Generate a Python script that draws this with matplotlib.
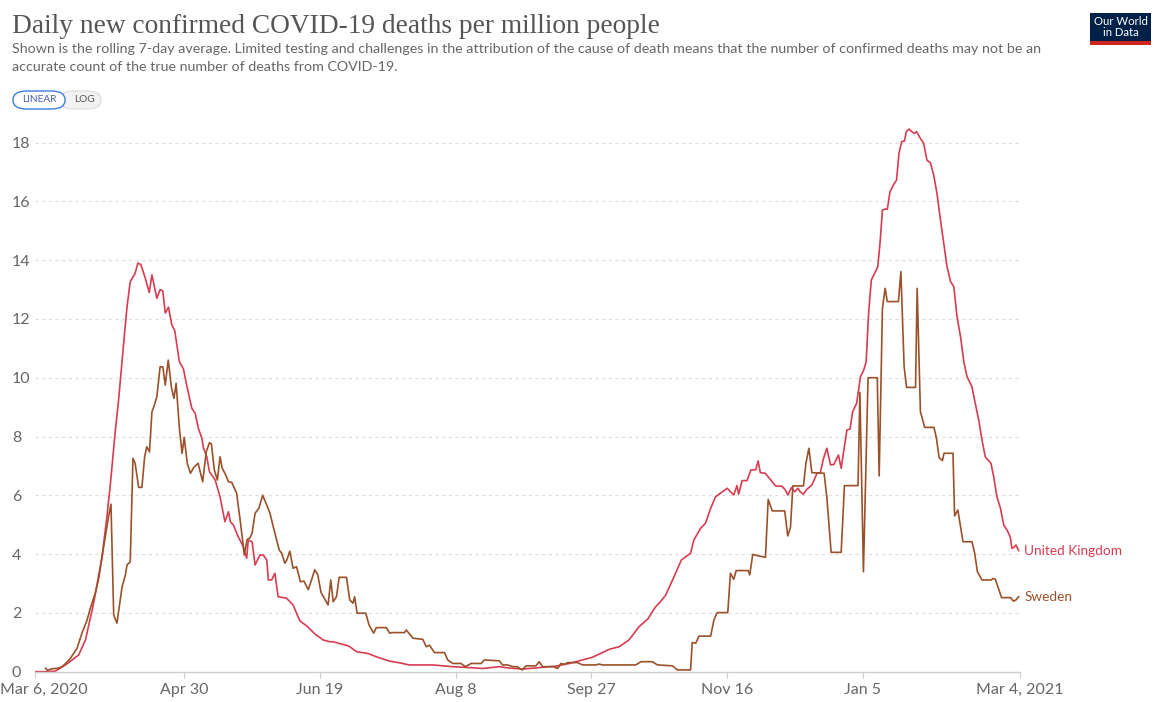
import numpy as np
import matplotlib
matplotlib.use("Agg")
import matplotlib.pyplot as plt
from matplotlib.patches import Rectangle, FancyBboxPatch
from matplotlib.transforms import ScaledTranslation

plt.rcParams['font.family'] = ['Lato', 'DejaVu Sans']

# days counted from 6 Mar 2020, values = deaths per million (7-day avg)
start_date = '2020-03-06'

uk_day = [0, 4, 7.5, 11.2, 14, 16.1, 18.6, 21.6, 24.7, 26.5, 27.8, 29.6, 30.8, 32.3, 33, 33.9, 35.1, 36.9,
          37.9, 39, 40.6, 42.1, 43.1, 44.9, 46.1, 47.1, 48, 49.2, 50.4, 51.5, 53.2, 54.7, 56, 57.8, 59,
          60.2, 61.5, 62.1, 63.3, 64.3, 66.4, 68.2, 70, 71.3, 72, 73.1, 74.9, 76.8, 78, 78.6, 80, 81.1,
          82.9, 84.1, 85.4, 86, 87.2, 88.4, 89.6, 92.7, 95.1, 97.6, 100.2, 103.2, 106.2, 108.6, 110,
          112.5, 114.8, 116, 118.5, 122.7, 126, 130.7, 134.4, 138, 146.6, 154, 160, 165, 171, 175, 179.7,
          185.8, 192, 196.9, 201.8, 205.4, 207.9, 211.6, 215.3, 218.9, 222.6, 225.9, 228.7, 230, 232.4,
          235.5, 238.2, 241.6, 242.8, 245.3, 247.1, 249, 250.8, 252.6, 255.1, 257.5, 258.7, 259.3, 260.6,
          262.4, 263.8, 265.6, 266.5, 267.3, 269.1, 271, 272.9, 275.3, 276.5, 277.5, 278.7, 280, 281.2,
          282, 283.2, 284.4, 286.3, 288.2, 289.4, 290.6, 291.8, 293.2, 294.4, 296.1, 297.1, 299.2, 300.4,
          301.3, 302.8, 304.2, 305.4, 306.3, 307.2, 308.2, 309.4, 310.6, 311.5, 312.3, 313.3, 314.1,
          315.1, 316.3, 317.5, 318.4, 319.4, 320.4, 321.1, 322.1, 323.1, 324.1, 324.9, 326.3, 327.5,
          328.7, 330, 331.2, 332.4, 333.7, 334.9, 336.1, 337.4, 338.6, 339.8, 341.1, 342.3, 343.5, 345.3,
          346.5, 347.8, 349, 350.2, 352.3, 353.3, 354.5, 355.8, 357, 358.2, 359.4, 360, 360.6, 361.5, 362.5]
uk_val = [0, 0, 0.02, 0.23, 0.42, 0.57, 1.08, 2.33, 3.9, 5.27, 6.4, 8.2, 9.24, 10.8, 11.5, 12.4, 13.27, 13.55,
          13.9, 13.85, 13.4, 12.9, 13.5, 12.7, 13.0, 12.95, 12.2, 12.4, 11.8, 11.6, 10.55, 10.3, 9.7, 8.96, 8.8,
          8.28, 7.94, 7.6, 7.31, 6.8, 6.52, 5.95, 5.1, 5.44, 5.1, 4.99, 4.59, 4.25, 3.86, 4.48, 4.42, 3.63,
          3.97, 3.97, 3.8, 3.12, 3.12, 3.35, 2.55, 2.5, 2.27, 1.73, 1.55, 1.28, 1.08, 1.02, 1.02,
          0.95, 0.9, 0.85, 0.68, 0.62, 0.5, 0.36, 0.3, 0.23, 0.23, 0.17, 0.14, 0.11, 0.17, 0.12, 0.09,
          0.14, 0.19, 0.28, 0.4, 0.49, 0.6, 0.76, 0.85, 1.08, 1.53, 1.8, 2.21, 2.33, 2.6,
          3.23, 3.8, 4.03, 4.48, 4.88, 5.05, 5.56, 5.95, 6.07, 6.24, 6.01, 6.33, 6.04, 6.5,
          6.5, 6.86, 6.87, 7.17, 6.77, 6.75, 6.54, 6.32, 6.31, 6.18, 6.01, 6.26, 6.12, 6.24,
          6.12, 6.04, 6.2, 6.35, 6.75, 6.77, 7.26, 7.6, 7.03, 7.05, 7.37, 6.92, 8.22, 8.26,
          8.84, 9.13, 10.03, 10.26, 10.54, 12.19, 13.32, 13.55, 13.78, 14.68, 15.7, 15.74, 15.73,
          16.33, 16.55, 16.72, 17.63, 18.03, 18.05, 18.37, 18.46, 18.37, 18.31, 18.37, 18.14, 17.97,
          17.4, 17.31, 16.89, 16.27, 15.36, 14.57, 13.78, 13.27, 13.1, 12.07, 11.39, 10.54, 10.03, 9.69,
          9.13, 8.56, 7.88, 7.31, 7.09, 6.63, 5.95, 5.56, 4.99, 4.82, 4.59, 4.2, 4.22, 4.31, 4.12]

se_day = [3.9, 4.5, 6.4, 8.5, 10, 11.5, 13, 15.5, 17.3, 19.2, 20.4, 22.2, 23.5, 24.7, 25.9, 27.1, 28, 29,
          30.2, 32.1, 33.3, 33.9, 35.1, 36.1, 36.9, 38.2, 39.4, 40.4, 41.2, 42.2, 43.1, 44, 44.9, 46.1,
          47.1, 48, 49.1, 50.3, 51.2, 52, 53.2, 54.2, 55, 56.1, 57.3, 58.5, 60.1, 61.8, 63.1, 64.3, 65,
          66.1, 67.2, 68.2, 69, 70.3, 71.3, 72.5, 74.3, 75.6, 76.5, 77.1, 78.2, 79.2, 80, 81.1, 82.5,
          83.9, 85.4, 86.6, 87.8, 89, 90, 90.9, 92.1, 92.8, 93.9, 95.1, 96.4, 97.8, 99.1, 100.7, 101.9,
          103.1, 104.2, 105.4, 106.5, 108, 109, 109.9, 111.1, 112.1, 114.8, 116, 117.2, 117.8, 118.7,
          121.9, 123.1, 124.8, 125.8, 129.5, 130.7, 131.5, 136.2, 136.8, 139.3, 142.9, 144.2, 145.4,
          147.2, 150.9, 152.1, 154, 157, 158.6, 160.7, 164.4, 165.6, 171.1, 172.3, 174.2, 176, 177.8,
          179.5, 181, 184.6, 185.8, 187.1, 191, 192.6, 193.8, 195, 196.3, 199.9, 201.8, 206.7, 207.9,
          209.1, 221.4, 223.3, 227.5, 229.4, 234.9, 236.7, 241.6, 242.2, 243.5, 244.7, 249, 250.2,
          251.4, 255.3, 256.3, 257.5, 258.4, 262.8, 263.4, 264.5, 265.7, 269.2, 270.2, 271.7, 276.3,
          277.4, 278.4, 279.3, 283.2, 284.1, 285.2, 286.3, 290.8, 291.8, 293.4, 297.1, 298.3, 303.3,
          304, 305.3, 307, 310.4, 311.1, 312.3, 313.3, 314.1, 318.2, 319.1, 320.3, 321.2, 324.5, 325.1,
          326.3, 327.9, 331.3, 332.2, 333.2, 334.4, 335, 338.3, 338.9, 340.1, 342, 345.3, 346.3, 347.3,
          349, 352.4, 353, 353.9, 356.2, 359.6, 360.5, 361.5, 362.5]
se_val = [0.12, 0.05, 0.1, 0.12, 0.17, 0.3, 0.45, 0.8, 1.31, 1.76, 2.16, 2.67, 3.18, 3.91, 4.59, 5.27, 5.7, 1.93,
          1.65, 2.89, 3.29, 3.63, 3.74, 7.26, 7.09, 6.27, 6.27, 7.31, 7.65, 7.48, 8.84, 9.07, 9.35, 10.37,
          10.37, 9.75, 10.6, 9.65, 9.3, 9.81, 8.3, 7.43, 7.97, 7.09, 6.75, 6.95, 7.09, 6.46, 7.48, 7.79, 7.75,
          6.86, 6.52, 7.31, 6.92, 6.69, 6.46, 6.44, 6.07, 5.16, 4.48, 3.97, 4.5, 4.55, 4.71, 5.39, 5.56,
          6.0, 5.67, 5.39, 4.93, 4.5, 4.14, 4.03, 3.69, 3.8, 4.1, 3.52, 3.57, 3.06, 3.08, 2.79, 3.12,
          3.47, 3.3, 2.7, 2.52, 2.27, 3.12, 2.38, 2.55, 3.21, 3.21, 2.44, 2.33, 2.55, 1.99,
          1.99, 1.59, 1.31, 1.5, 1.5, 1.31, 1.33, 1.33, 1.42, 1.14, 1.1, 0.85, 0.9,
          0.65, 0.65, 0.4, 0.28, 0.28, 0.17, 0.28, 0.28, 0.4, 0.37, 0.23, 0.23, 0.17, 0.17,
          0.06, 0.2, 0.2, 0.34, 0.17, 0.17, 0.11, 0.28, 0.25, 0.31, 0.31, 0.23, 0.23, 0.26,
          0.23, 0.23, 0.34, 0.34, 0.23, 0.2, 0.06, 0.06, 0.99, 0.97, 1.21, 1.21, 1.76,
          2.01, 2.01, 3.35, 3.14, 3.44, 3.44, 3.29, 3.99, 3.96, 3.89, 5.86, 5.47, 5.47,
          4.62, 4.9, 6.32, 6.32, 7.09, 7.6, 6.77, 6.75, 5.95, 4.06, 4.06, 6.33, 6.33,
          9.5, 3.4, 10.0, 10.0, 6.66, 12.36, 13.04, 12.59, 12.59, 13.61, 10.37, 9.67, 9.67, 13.04,
          8.84, 8.31, 8.31, 7.94, 7.28, 7.18, 7.43, 7.43, 5.3, 5.5, 4.42, 4.42, 4.03, 3.4,
          3.12, 3.12, 3.17, 3.15, 2.52, 2.52, 2.4, 2.44, 2.55]

tick_dates = ['2020-03-06', '2020-04-30', '2020-06-19', '2020-08-08', '2020-09-27',
              '2020-11-16', '2021-01-05', '2021-03-04']
tick_labels = ['Mar 6, 2020', 'Apr 30', 'Jun 19', 'Aug 8', 'Sep 27', 'Nov 16', 'Jan 5', 'Mar 4, 2021']
y_ticks = [0, 2, 4, 6, 8, 10, 12, 14, 16, 18]

uk_color = '#D73C50'
se_color = '#9A5129'

W, H = 1157, 702
fig = plt.figure(figsize=(W / 100, H / 100), dpi=100)
ax = fig.add_axes([35 / W, (H - 671.7) / H, (1020 - 35) / W, (671.7 - 124.9) / H])

start = np.datetime64(start_date)
tick_pos = [int((np.datetime64(d) - start).astype(int)) for d in tick_dates]

ax.plot(uk_day, uk_val, color=uk_color, lw=1.2, solid_joinstyle='round')
ax.plot(se_day, se_val, color=se_color, lw=1.2, solid_joinstyle='round')

ax.set_xlim(0, tick_pos[-1])
ax.set_ylim(0, 18.6)

for s in ['top', 'right', 'left']:
    ax.spines[s].set_visible(False)
ax.spines['bottom'].set_color('#cccccc')
ax.spines['bottom'].set_linewidth(1)

ax.set_yticks(y_ticks)
ax.set_yticklabels([str(v) for v in y_ticks])
ax.tick_params(axis='y', length=0, pad=16.6, labelsize=11.5, labelcolor='#666666')
for lbl in ax.get_yticklabels():
    lbl.set_horizontalalignment('left')
ax.yaxis.grid(True, color='#dddddd', linestyle=(0, (3, 3)), lw=0.8)

ax.set_xticks(tick_pos)
ax.set_xticklabels(tick_labels)
ax.tick_params(axis='x', length=4, color='#cccccc', pad=4, labelsize=11.5, labelcolor='#666666')
first = ax.get_xticklabels()[0]
first.set_horizontalalignment('left')
first.set_transform(first.get_transform() + ScaledTranslation(-0.35, 0, fig.dpi_scale_trans))

# series labels at the line ends
ax.annotate('United Kingdom', xy=(uk_day[-1], uk_val[-1]), xytext=(4, 0), textcoords='offset points',
            va='center', ha='left', color=uk_color, fontsize=9.8, annotation_clip=False)
ax.annotate('Sweden', xy=(se_day[-1], se_val[-1]), xytext=(4, 0), textcoords='offset points',
            va='center', ha='left', color=se_color, fontsize=9.8, annotation_clip=False)

# header
fig.text(12 / W, 1 - 33 / H, 'Daily new confirmed COVID-19 deaths per million people',
         family=['Liberation Serif', 'DejaVu Serif'], fontsize=19.7, color='#555555', va='baseline')
fig.text(12 / W, 1 - 53 / H, 'Shown is the rolling 7-day average. Limited testing and challenges in the '
         'attribution of the cause of death means that the number of confirmed deaths may not be an',
         fontsize=10.3, color='#666666', va='baseline')
fig.text(12 / W, 1 - 71 / H, 'accurate count of the true number of deaths from COVID-19.',
         fontsize=10.3, color='#666666', va='baseline')

# LINEAR / LOG toggle
fig.patches.append(FancyBboxPatch((60 / W, 1 - 109 / H), 41 / W, 18 / H,
                                  boxstyle='round,pad=0,rounding_size=0.012',
                                  transform=fig.transFigure, facecolor='#f2f2f2',
                                  edgecolor='#dddddd', lw=0.8))
fig.patches.append(FancyBboxPatch((13 / W, 1 - 109 / H), 52 / W, 18 / H,
                                  boxstyle='round,pad=0,rounding_size=0.012',
                                  transform=fig.transFigure, facecolor='white',
                                  edgecolor='#3b7fdc', lw=1.0))
fig.text(39 / W, 1 - 100 / H, 'LINEAR', fontsize=7.3, color='#4a5fb0', ha='center', va='center')
fig.text(84 / W, 1 - 100 / H, 'LOG', fontsize=7.3, color='#555555', ha='center', va='center')

# logo
fig.patches.append(Rectangle((1090 / W, 1 - 41 / H), 61 / W, 28 / H, transform=fig.transFigure,
                             facecolor='#002147', edgecolor='none'))
fig.patches.append(Rectangle((1090 / W, 1 - 44.5 / H), 61 / W, 3.5 / H, transform=fig.transFigure,
                             facecolor='#ce261e', edgecolor='none'))
fig.text(1120.5 / W, 1 - 27 / H, 'Our World\nin Data', fontsize=8.2, color='white', ha='center',
         va='center', linespacing=0.95)

fig.savefig('out.png', dpi=100)
